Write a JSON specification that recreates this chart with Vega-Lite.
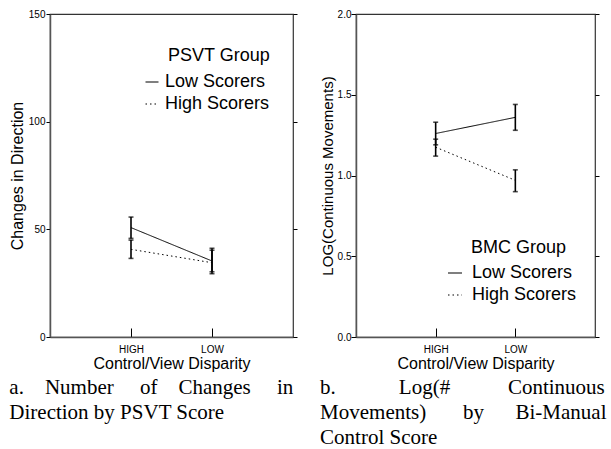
{
  "$schema": "https://vega.github.io/schema/vega-lite/v6.json",
  "padding": {"left": 8, "top": 8, "right": 0, "bottom": 0},
  "background": "white",
  "spacing": 20,
  "resolve": {"scale": {"strokeDash": "independent"}, "legend": {"strokeDash": "independent"}},
  "config": {
    "font": "Liberation Sans",
    "view": {"stroke": "#333", "strokeWidth": 1.2},
    "axis": {"grid": false, "domainColor": "#555", "domainWidth": 1.5, "tickColor": "black", "labelColor": "black", "titleColor": "black", "titleFontWeight": "normal", "labelFont": "Liberation Sans", "titleFont": "Liberation Sans"},
    "legend": {"padding": 0, "labelFont": "Liberation Sans", "titleFont": "Liberation Sans"},
    "title": {"font": "Liberation Serif", "fontSize": 21, "fontWeight": "normal", "color": "black", "anchor": "start", "orient": "bottom", "frame": "bounds", "lineHeight": 25, "offset": 6}
  },
  "datasets": {
    "psvt": [
      {"disparity": "HIGH", "group": "Low Scorers", "mean": 50.8, "lo": 45.8, "hi": 55.7},
      {"disparity": "LOW", "group": "Low Scorers", "mean": 35.3, "lo": 29.4, "hi": 41.2},
      {"disparity": "HIGH", "group": "High Scorers", "mean": 40.7, "lo": 36.5, "hi": 45.0},
      {"disparity": "LOW", "group": "High Scorers", "mean": 34.5, "lo": 30.3, "hi": 40.3}
    ],
    "bmc": [
      {"disparity": "HIGH", "group": "Low Scorers", "mean": 1.26, "lo": 1.19, "hi": 1.33},
      {"disparity": "LOW", "group": "Low Scorers", "mean": 1.36, "lo": 1.28, "hi": 1.44},
      {"disparity": "HIGH", "group": "High Scorers", "mean": 1.175, "lo": 1.12, "hi": 1.225},
      {"disparity": "LOW", "group": "High Scorers", "mean": 0.97, "lo": 0.9, "hi": 1.035}
    ]
  },
  "hconcat": [
    {
      "width": 243,
      "height": 323,
      "data": {"name": "psvt"},
      "title": {"text": ["a.\u00a0\u00a0\u00a0\u00a0Number\u00a0\u00a0\u00a0\u00a0\u00a0of\u00a0\u00a0\u00a0\u00a0Changes\u00a0\u00a0\u00a0\u00a0\u00a0in", "Direction by PSVT Score"]},
      "resolve": {"axis": {"y": "independent"}},
      "layer": [
        {
          "mark": {"type": "line", "color": "black", "strokeWidth": 1},
          "encoding": {
            "x": {"field": "disparity", "type": "nominal", "scale": {"type": "point", "padding": 1, "domain": ["HIGH", "LOW"]},
                  "axis": {"title": "Control/View Disparity", "titleFontSize": 16, "labelFontSize": 10, "labelAngle": 0, "tickSize": -9, "labelPadding": 16, "titlePadding": 1}},
            "y": {"field": "mean", "type": "quantitative", "scale": {"domain": [0, 150], "nice": false},
                  "axis": {"title": "Changes in Direction", "titleFontSize": 16, "labelFontSize": 10, "values": [0, 50, 100, 150], "tickSize": 4, "labelPadding": 1, "titlePadding": 3}},
            "strokeDash": {"field": "group", "type": "nominal", "scale": {"domain": ["Low Scorers", "High Scorers"], "range": [[1, 0], [1.5, 3]]},
                  "legend": {"title": "\u200b\u00a0\u00a0\u00a0\u00a0\u00a0PSVT Group", "orient": "none", "legendX": 93, "legendY": 33, "titleFontSize": 18, "labelFontSize": 18, "titleFontWeight": "normal", "symbolType": "stroke", "symbolSize": 169, "symbolStrokeColor": "black", "symbolStrokeWidth": 1.2, "labelOffset": 4, "titlePadding": 8, "rowPadding": 4}}
          }
        },
        {
          "mark": {"type": "errorbar", "ticks": true, "size": 5, "thickness": 1.6, "color": "black"},
          "encoding": {
            "x": {"field": "disparity", "type": "nominal", "scale": {"type": "point", "padding": 1, "domain": ["HIGH", "LOW"]}},
            "y": {"field": "lo", "type": "quantitative", "scale": {"domain": [0, 150], "nice": false},
                  "axis": {"orient": "right", "title": null, "labels": false, "domain": false, "values": [0, 50, 100, 150], "tickSize": 4}},
            "y2": {"field": "hi"}
          }
        }
      ]
    },
    {
      "width": 239,
      "height": 323,
      "data": {"name": "bmc"},
      "title": {"text": ["b.\u00a0\u00a0\u00a0\u00a0\u00a0\u00a0\u00a0\u00a0\u00a0\u00a0\u00a0\u00a0Log(#\u00a0\u00a0\u00a0\u00a0\u00a0\u00a0\u00a0\u00a0\u00a0\u00a0\u00a0Continuous", "Movements)\u00a0\u00a0\u00a0\u00a0\u00a0\u00a0\u00a0by\u00a0\u00a0\u00a0\u00a0\u00a0\u00a0Bi-Manual", "Control Score"]},
      "resolve": {"axis": {"y": "independent"}},
      "layer": [
        {
          "mark": {"type": "line", "color": "black", "strokeWidth": 1},
          "encoding": {
            "x": {"field": "disparity", "type": "nominal", "scale": {"type": "point", "padding": 1, "domain": ["HIGH", "LOW"]},
                  "axis": {"title": "Control/View Disparity", "titleFontSize": 16, "labelFontSize": 10, "labelAngle": 0, "tickSize": -9, "labelPadding": 16, "titlePadding": 1}},
            "y": {"field": "mean", "type": "quantitative", "scale": {"domain": [0, 2], "nice": false},
                  "axis": {"title": "LOG(Continuous Movements)", "titleFontSize": 15, "labelFontSize": 10, "values": [0, 0.5, 1, 1.5, 2], "format": ".1f", "tickSize": 5, "labelPadding": 0, "titlePadding": 2}},
            "strokeDash": {"field": "group", "type": "nominal", "scale": {"domain": ["Low Scorers", "High Scorers"], "range": [[1, 0], [1.5, 3]]},
                  "legend": {"title": "\u200b\u00a0\u00a0\u00a0\u00a0\u00a0BMC Group", "orient": "none", "legendX": 90, "legendY": 225, "titleFontSize": 18, "labelFontSize": 18, "titleFontWeight": "normal", "symbolType": "stroke", "symbolSize": 196, "symbolStrokeColor": "black", "symbolStrokeWidth": 1.2, "labelOffset": 8, "titlePadding": 7, "rowPadding": 4}}
          }
        },
        {
          "mark": {"type": "errorbar", "ticks": true, "size": 5, "thickness": 1.6, "color": "black"},
          "encoding": {
            "x": {"field": "disparity", "type": "nominal", "scale": {"type": "point", "padding": 1, "domain": ["HIGH", "LOW"]}},
            "y": {"field": "lo", "type": "quantitative", "scale": {"domain": [0, 2], "nice": false},
                  "axis": {"orient": "right", "title": null, "labels": false, "domain": false, "values": [0, 0.5, 1, 1.5, 2], "tickSize": 4}},
            "y2": {"field": "hi"}
          }
        }
      ]
    }
  ]
}
